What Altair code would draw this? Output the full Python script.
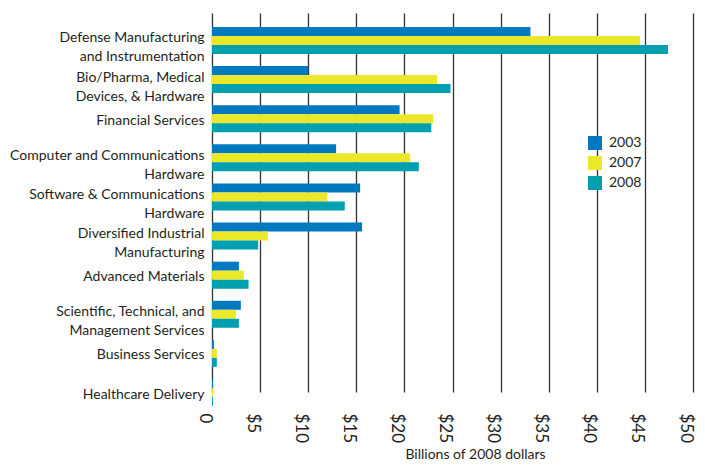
import altair as alt
import pandas as pd

categories = [
    "Defense Manufacturing|and Instrumentation",
    "Bio/Pharma, Medical|Devices, & Hardware",
    "Financial Services",
    "Computer and Communications|Hardware",
    "Software & Communications|Hardware",
    "Diversified Industrial|Manufacturing",
    "Advanced Materials",
    "Scientific, Technical, and|Management Services",
    "Business Services",
    "Healthcare Delivery",
]
years = ["2003", "2007", "2008"]
v2003 = [33.1, 10.0, 19.5, 12.9, 15.4, 15.6, 2.8, 3.0, 0.2, 0.1]
v2007 = [44.5, 23.4, 23.0, 20.6, 12.0, 5.8, 3.3, 2.5, 0.5, 0.1]
v2008 = [47.4, 24.8, 22.8, 21.5, 13.8, 4.8, 3.8, 2.8, 0.5, 0.1]
colors = ["#0079C1", "#EBE82A", "#00A0B0"]
x_ticks = [0, 5, 10, 15, 20, 25, 30, 35, 40, 45, 50]

rows = []
for yr, vals in zip(years, [v2003, v2007, v2008]):
    for c, v in zip(categories, vals):
        rows.append({"category": c, "year": yr, "value": v})
df = pd.DataFrame(rows)

FONT = "Lato"
TXT = "#231f20"

chart = alt.Chart(df).mark_bar().encode(
    x=alt.X(
        "value:Q",
        scale=alt.Scale(domain=[0, 50], nice=False),
        axis=alt.Axis(
            values=x_ticks,
            labelExpr="datum.value == 0 ? '0' : '$' + datum.value",
            labelAngle=90,
            labelAlign="left",
            labelBaseline="top",
            labelFontSize=17,
            labelFont=FONT,
            labelColor=TXT,
            labelPadding=7,
            ticks=False,
            domain=False,
            grid=True,
            gridColor="#333333",
            gridWidth=1.3,
            title="Billions of 2008 dollars",
            titleFont=FONT,
            titleFontSize=14,
            titleFontWeight="normal",
            titleColor=TXT,
            titleX=263,
            titleY=48,
            titleBaseline="middle",
            titleAlign="center",
        ),
    ),
    y=alt.Y(
        "category:N",
        sort=categories,
        scale=alt.Scale(range=[14, 393], paddingInner=0.31, paddingOuter=0),
        axis=alt.Axis(
            title=None,
            labelExpr="split(datum.value, '|')",
            labelFont=FONT,
            labelFontSize=14,
            labelColor=TXT,
            labelLineHeight=19,
            labelPadding=8,
            labelOffset={
                "condition": {"test": "indexof(datum.value, '|') >= 0", "value": -2},
                "value": 2,
            },
            ticks=False,
            domain=False,
            labelLimit=300,
        ),
    ),
    yOffset=alt.YOffset("year:N", sort=years, scale=alt.Scale(paddingInner=0, paddingOuter=0)),
    color=alt.Color(
        "year:N",
        sort=years,
        scale=alt.Scale(domain=years, range=colors),
        legend=alt.Legend(
            title=None,
            orient="none",
            legendX=376,
            legendY=123,
            symbolType="square",
            symbolSize=196,
            symbolStrokeWidth=0,
            symbolOpacity=1,
            labelFont=FONT,
            labelFontSize=14,
            labelColor=TXT,
            labelOffset=7,
            rowPadding=6,
            padding=0,
        ),
    ),
).properties(
    width=481,
    height=393,
    autosize=alt.AutoSizeParams(type="none"),
    padding={"left": 204, "top": 5, "right": 4, "bottom": 54},
).configure_view(stroke=None)

chart.save("out.html", embed_options={"renderer": "svg", "actions": False})
